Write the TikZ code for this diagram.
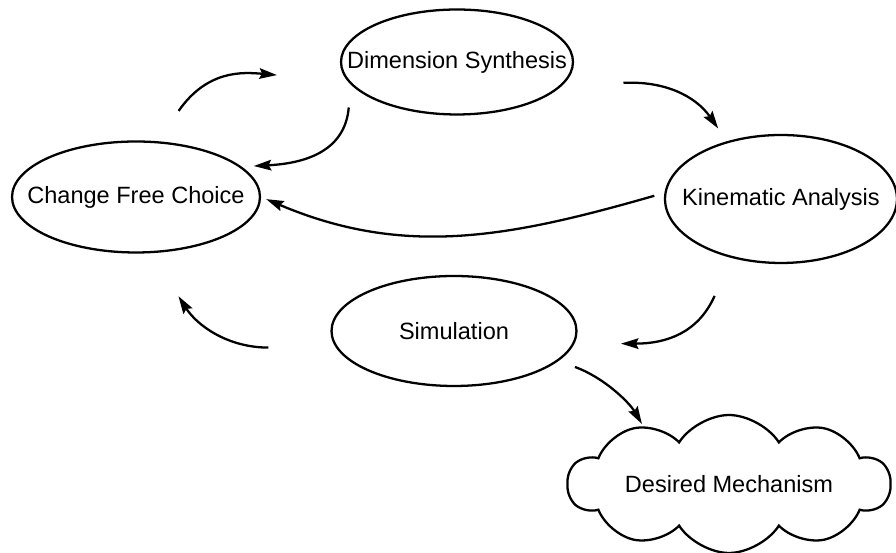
\documentclass[tikz,border=0pt]{standalone}
\usepackage{fontspec}
\setmainfont{Liberation Sans}
\usetikzlibrary{arrows.meta, shapes.geometric, shapes.symbols}

\begin{document}
\begin{tikzpicture}[
    x=0.02cm, y=0.02cm,
    >={Stealth[length=10pt, width=6pt, inset=1.5pt]},
    stage/.style={
        ellipse,
        draw=black,
        line width=1.3pt,
        inner sep=0pt,
        font=\fontsize{13.4}{16}\selectfont
    },
    goal/.style={
        cloud,
        cloud puffs=10,
        cloud puff arc=115,
        cloud ignores aspect,
        draw=black,
        line width=1.3pt,
        inner sep=0pt,
        font=\fontsize{13.4}{16}\selectfont
    },
    arrow/.style={
        ->,
        line width=1.3pt
    }
]
\useasboundingbox (0,0) rectangle (896,553);

% Stage 1: Dimension Synthesis
\node[stage, minimum width=4.64cm, minimum height=2.1cm] (synthesis) at (457,491)
    {\makebox[0pt]{Dimension Synthesis}};

% Stage 2: Change Free Choice
\node[stage, minimum width=4.96cm, minimum height=2.22cm] (choice) at (136,356)
    {\makebox[0pt]{Change Free Choice}};

% Stage 3: Kinematic Analysis
\node[stage, minimum width=4.64cm, minimum height=2.56cm] (analysis) at (781,354)
    {\makebox[0pt]{Kinematic Analysis}};

% Stage 4: Simulation
\node[stage, minimum width=4.9cm, minimum height=2.2cm] (simulation) at (454,222)
    {\makebox[0pt]{Simulation}};

% Result
\node[goal, minimum width=6.44cm, minimum height=2.76cm] (mechanism) at (729,69)
    {\makebox[0pt]{Desired Mechanism}};

% Loop arrows
\draw[arrow, shorten <=0.74cm, shorten >=1.42cm] (choice.69) .. controls +(55:87) and +(175:106) .. (synthesis.190);
\draw[arrow, shorten <=0.46cm, shorten >=0.24cm] (synthesis.192) .. controls +(265:68) and +(3:62) .. (choice.16);
\draw[arrow, shorten <=1.24cm, shorten >=0.31cm] (synthesis.-13) .. controls +(3:102) and +(125:56) .. (analysis.133);
\draw[arrow, shorten <=0.21cm, shorten >=0.11cm] (analysis.177) .. controls +(196:161) and +(337:156) .. (choice.0);
\draw[arrow, shorten <=0.83cm, shorten >=0.93cm] (analysis.230) .. controls +(246:82) and +(0:92) .. (simulation.-6);
\draw[arrow, shorten <=1.35cm, shorten >=1.02cm] (simulation.188) .. controls +(180:108) and +(302.5:86) .. (choice.285);
\draw[arrow, shorten <=0.35cm, shorten >=0.05cm] (simulation.-16) .. controls +(-20:48) and +(120.5:28) .. (mechanism.146);

\end{tikzpicture}
\end{document}
